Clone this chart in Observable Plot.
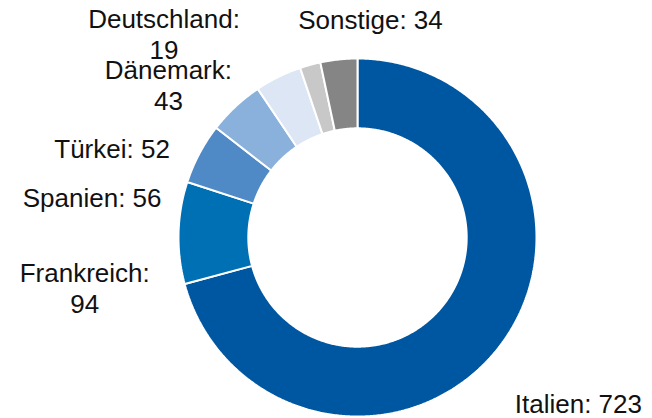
<!DOCTYPE html>
<html><head><meta charset="utf-8">
<script src="https://cdn.jsdelivr.net/npm/d3@7"></script>
<script src="https://cdn.jsdelivr.net/npm/@observablehq/plot@0.6"></script>
<style>html,body{margin:0;padding:0;background:#fff}</style>
</head><body><div id="chart"></div>
<script>
// ---- data ----
const categories = ["Italien", "Frankreich", "Spanien", "Türkei", "Dänemark", "Deutschland", "Sonstige"];
const values = [723, 94, 56, 52, 43, 19, 34];
const colors = ["#0057a1", "#0070b4", "#4f89c6", "#8ab1dc", "#dce6f5", "#c8c8c8", "#858585"];
const labelTexts = ["Italien: 723", "Frankreich:\n94", "Spanien: 56", "Türkei: 52", "Dänemark:\n43", "Deutschland:\n19", "Sonstige: 34"];

// ---- layout (label nudges in px, like manually moved labels) ----
const labelDx = [57.5, -67, -83.5, -105, -98, -139, 34.5];
const labelDy = [40, 55.4, 56.5, 61.6, 31.7, -5, -14];

const W = 652, H = 418, cx = 357, cy = 237, Rpx = 179, inner = 0.61, labelR = 1.15;

const arcs = d3.pie().sort(null).value(d => d)(values);

// slice outlines in unit-radius coordinates (y up, angle clockwise from 12 o'clock)
const pts = [];
arcs.forEach((a, i) => {
  const name = categories[i];
  const n = Math.max(4, Math.ceil((a.endAngle - a.startAngle) * 180 / Math.PI * 2));
  const ring = [];
  for (let k = 0; k <= n; k++) {
    const t = a.startAngle + (a.endAngle - a.startAngle) * k / n;
    ring.push({name, x: Math.sin(t), y: Math.cos(t)});
  }
  for (let k = n; k >= 0; k--) {
    const t = a.startAngle + (a.endAngle - a.startAngle) * k / n;
    ring.push({name, x: inner * Math.sin(t), y: inner * Math.cos(t)});
  }
  ring.push({...ring[0]});
  pts.push(...ring);
});

const labels = arcs.map((a, i) => {
  const m = (a.startAngle + a.endAngle) / 2;
  return {
    text: labelTexts[i],
    x: labelR * Math.sin(m) + labelDx[i] / Rpx,
    y: labelR * Math.cos(m) - labelDy[i] / Rpx
  };
});

const chart = Plot.plot({
  width: W, height: H,
  margin: 0,
  x: {domain: [-cx / Rpx, (W - cx) / Rpx], axis: null},
  y: {domain: [-(H - cy) / Rpx, cy / Rpx], axis: null},
  color: {domain: categories, range: colors},
  style: {background: "#fff", fontFamily: "'Liberation Sans', Arial, sans-serif"},
  marks: [
    Plot.line(pts, {x: "x", y: "y", z: "name", fill: "name", stroke: "#fff", strokeWidth: 2, strokeLinejoin: "miter"}),
    Plot.text(labels, {x: "x", y: "y", text: "text", fontSize: 26, lineHeight: 1.18, textAnchor: "middle", fill: "#111"})
  ]
});
document.getElementById("chart").appendChild(chart);
</script>
</body></html>
